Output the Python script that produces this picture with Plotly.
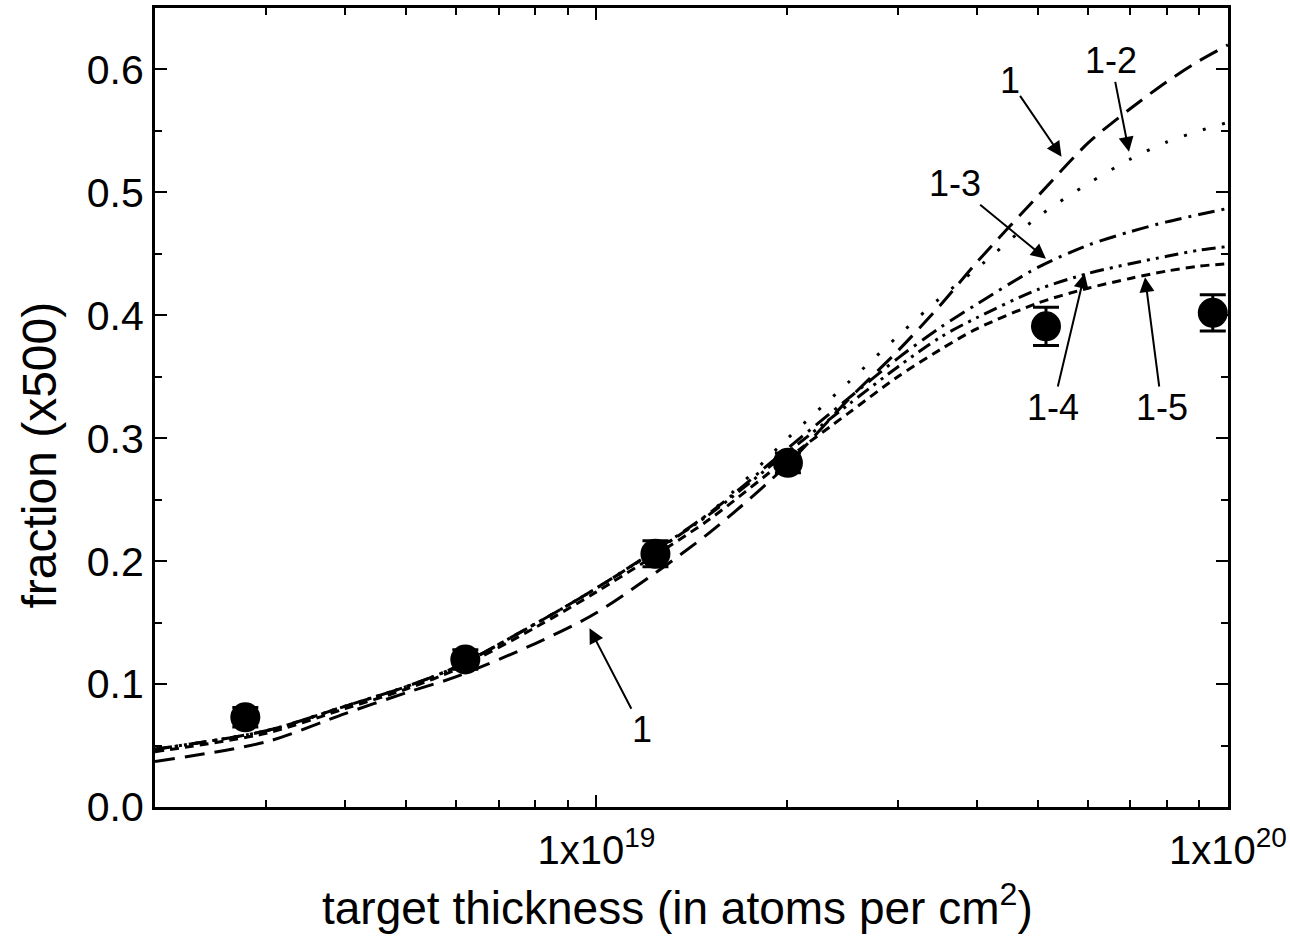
import math
import plotly.graph_objects as go

# target thickness grid (atoms per cm^2) on which the model curves are given
thickness = [2e18, 3e18, 4e18, 5e18, 6e18, 8e18, 1e19, 1.5e19, 2e19, 2.5e19,
             3e19, 3.5e19, 4e19, 5e19, 6e19, 7e19, 8e19, 9e19, 1e20]

# model curves (fraction x500)
curve_1 = [0.037, 0.053, 0.076, 0.093, 0.106, 0.133, 0.158, 0.222, 0.278, 0.331,
           0.371, 0.408, 0.443, 0.497, 0.540, 0.568, 0.590, 0.607, 0.620]
curve_1_2 = [0.047, 0.062, 0.082, 0.098, 0.114, 0.149, 0.178, 0.238, 0.299, 0.345,
             0.383, 0.414, 0.438, 0.480, 0.507, 0.527, 0.541, 0.550, 0.557]
curve_1_3 = [0.047, 0.062, 0.082, 0.098, 0.114, 0.149, 0.178, 0.238, 0.291, 0.332,
             0.365, 0.390, 0.409, 0.439, 0.457, 0.468, 0.476, 0.482, 0.487]
curve_1_4 = [0.047, 0.062, 0.082, 0.098, 0.114, 0.149, 0.178, 0.237, 0.288, 0.327,
             0.358, 0.382, 0.398, 0.421, 0.434, 0.442, 0.448, 0.453, 0.456]
curve_1_5 = [0.045, 0.060, 0.080, 0.096, 0.112, 0.146, 0.175, 0.233, 0.283, 0.320,
             0.350, 0.372, 0.389, 0.410, 0.422, 0.430, 0.436, 0.440, 0.442]

# measured points
meas_x = [2.78e18, 6.2e18, 1.24e19, 2.01e19, 5.15e19, 9.46e19]
meas_y = [0.073, 0.120, 0.206, 0.280, 0.391, 0.402]
meas_err = [0.008, 0.008, 0.0105, 0.008, 0.0155, 0.0148]

# curve labels: text, arrow tip (x, y), text position (x, y)
label_text = ["1", "1-2", "1-3", "1-4", "1-5", "1"]
label_tip_x = [5.45e19, 6.97e19, 5.15e19, 5.93e19, 7.39e19, 9.75e18]
label_tip_y = [0.529, 0.533, 0.446, 0.434, 0.431, 0.1455]
label_pos_x = [4.51e19, 6.53e19, 3.69e19, 5.28e19, 7.86e19, 1.18e19]
label_pos_y = [0.591, 0.607, 0.507, 0.325, 0.325, 0.0634]

major_x = [1e19, 1e20]
major_x_text = ["1x10<sup>19</sup>", "1x10<sup>20</sup>"]
minor_x = [float(m) * 10.0 ** e for e in (18, 19) for m in range(2, 10)]
major_y = [0.0, 0.1, 0.2, 0.3, 0.4, 0.5, 0.6]
major_y_text = ["0.0", "0.1", "0.2", "0.3", "0.4", "0.5", "0.6"]
minor_y = [0.05, 0.15, 0.25, 0.35, 0.45, 0.55]

FONT = "Liberation Sans, Arial, sans-serif"

fig = go.Figure()

styles = [
    (curve_1, "20px,10px"),
    (curve_1_2, "3px,17px"),
    (curve_1_3, "17px,7px,3px,7px"),
    (curve_1_4, "14px,6px,3px,6px,3px,6px"),
    (curve_1_5, "9px,6px"),
]
for ys, dash in styles:
    fig.add_trace(go.Scatter(
        x=thickness, y=ys, mode="lines",
        line=dict(color="black", width=3, dash=dash, shape="spline", smoothing=0.8),
        showlegend=False, hoverinfo="skip",
    ))

fig.add_trace(go.Scatter(
    x=meas_x, y=meas_y, mode="markers",
    marker=dict(color="black", size=30, symbol="circle"),
    error_y=dict(type="data", array=meas_err, visible=True,
                 color="black", thickness=3, width=13),
    showlegend=False,
))

for t, tx, ty, px, py in zip(label_text, label_tip_x, label_tip_y,
                             label_pos_x, label_pos_y):
    fig.add_annotation(
        x=math.log10(tx), y=ty, ax=math.log10(px), ay=py,
        xref="x", yref="y", axref="x", ayref="y",
        text=t, showarrow=True, arrowhead=2, arrowsize=1.5,
        arrowwidth=2, arrowcolor="black", standoff=0, startstandoff=0,
        font=dict(family=FONT, size=36, color="black"),
        borderpad=0,
    )

# axis titles
fig.add_annotation(
    text="target thickness (in atoms per cm<sup>2</sup>)",
    xref="paper", yref="paper", x=0.4874, y=-0.1227,
    xanchor="center", yanchor="middle", showarrow=False,
    font=dict(family=FONT, size=46, color="black"),
)
fig.add_annotation(
    text="fraction (x500)", textangle=-90,
    xref="paper", yref="paper", x=-0.108, y=0.44,
    xanchor="center", yanchor="middle", showarrow=False,
    font=dict(family=FONT, size=48, color="black"),
)

fig.update_layout(
    width=1290, height=938,
    margin=dict(l=155, r=62, t=8, b=131, autoexpand=False),
    paper_bgcolor="white", plot_bgcolor="white",
    font=dict(family=FONT, color="black"),
)

fig.update_xaxes(
    type="log", range=[math.log10(2e18), 20], automargin=False,
    showgrid=False, zeroline=False,
    showline=True, linecolor="black", linewidth=3, mirror="allticks",
    ticks="inside", ticklen=12, tickwidth=2, tickcolor="black",
    tickmode="array", tickvals=major_x, ticktext=major_x_text,
    tickfont=dict(family=FONT, size=40), ticklabelstandoff=6,
    minor=dict(tickmode="array", tickvals=minor_x, ticks="inside",
               ticklen=7, tickwidth=2, tickcolor="black", showgrid=False),
)

fig.update_yaxes(
    range=[0, 0.65], automargin=False,
    showgrid=False, zeroline=False,
    showline=True, linecolor="black", linewidth=3, mirror="allticks",
    ticks="inside", ticklen=12, tickwidth=2, tickcolor="black",
    tickmode="array", tickvals=major_y, ticktext=major_y_text,
    tickfont=dict(family=FONT, size=41),
    minor=dict(tickmode="array", tickvals=minor_y,
               ticks="inside", ticklen=7, tickwidth=2, tickcolor="black",
               showgrid=False),
)

fig.write_html("out.html")
